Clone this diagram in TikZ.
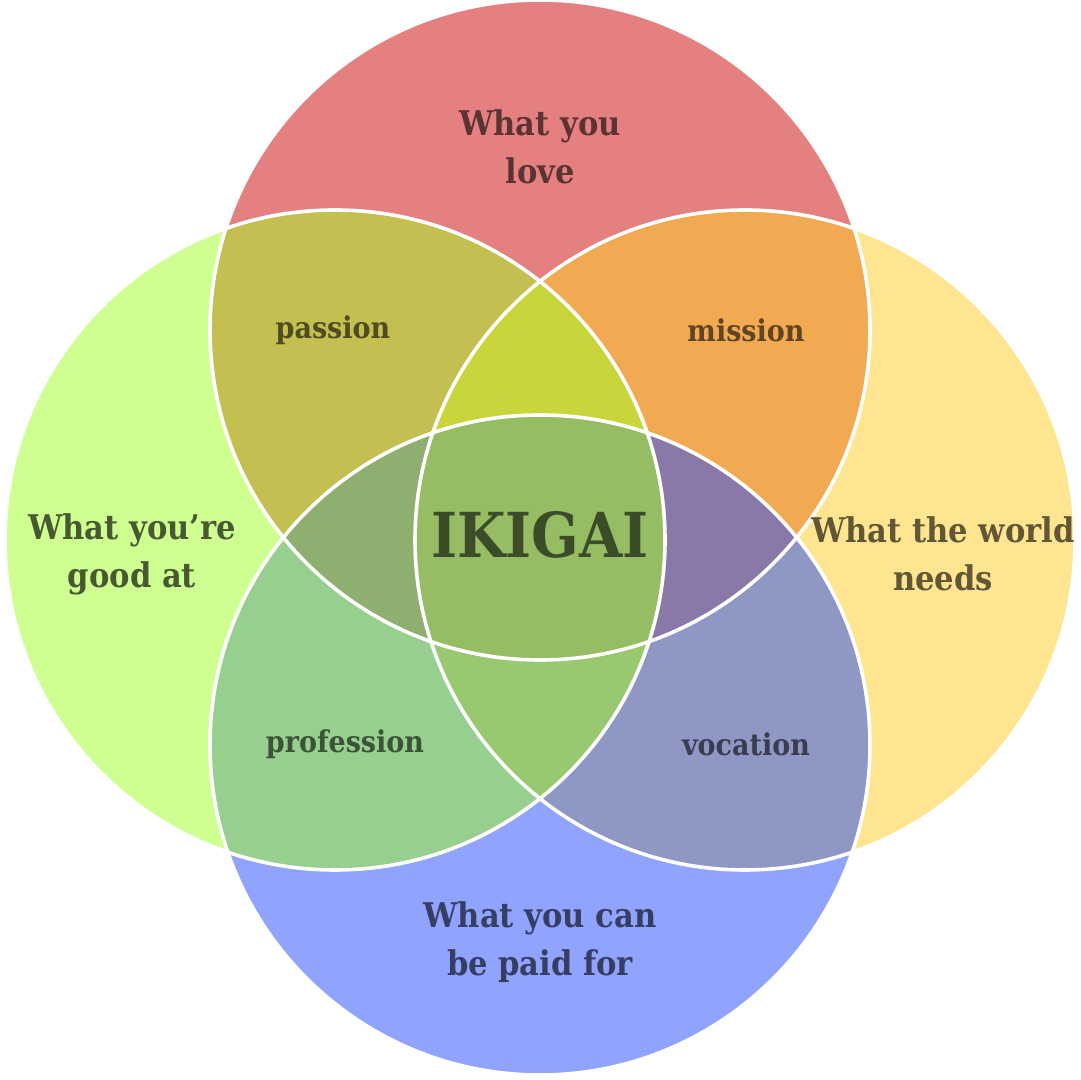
\documentclass[tikz,border=0pt]{standalone}
\usepackage{fontspec}
\setmainfont{DejaVu Serif Condensed}
\usepackage{tikz}

\definecolor{loveC}{HTML}{E58080}
\definecolor{goodC}{HTML}{CFFF90}
\definecolor{worldC}{HTML}{FFE58F}
\definecolor{paidC}{HTML}{8FA3FF}
\definecolor{passionC}{HTML}{C3BF50}
\definecolor{missionC}{HTML}{F2AA52}
\definecolor{professionC}{HTML}{96CF8E}
\definecolor{vocationC}{HTML}{8F98C5}
\definecolor{upC}{HTML}{C8D63B}
\definecolor{leftC}{HTML}{8EAF6F}
\definecolor{rightC}{HTML}{8A79A8}
\definecolor{downC}{HTML}{98C971}
\definecolor{ikigaiC}{HTML}{96BD63}

\tikzset{ring/.style={draw=white,line width=1.8pt},
  big label/.style={font=\bfseries\fontsize{17}{24}\selectfont,align=center,inner sep=0pt},
  small label/.style={font=\bfseries\fontsize{15}{16}\selectfont,inner sep=0pt},}

\def\circT{(540,750) circle[radius=165pt]}
\def\circL{(335,540) circle[radius=165pt]}
\def\circR{(745,540) circle[radius=165pt]}
\def\circB{(540,335) circle[radius=165pt]}

\begin{document}
\begin{tikzpicture}[x=0.5pt,y=0.5pt]
    \useasboundingbox (0,0) rectangle (1080,1080);

    % the four big circles
    \fill[loveC] \circT;
    \fill[goodC] \circL;
    \fill[worldC] \circR;
    \fill[paidC] \circB;

    % two at a time
    \begin{scope} \clip \circT; \fill[passionC] \circL; \end{scope}
    \begin{scope} \clip \circT; \fill[missionC] \circR; \end{scope}
    \begin{scope} \clip \circB; \fill[professionC] \circL; \end{scope}
    \begin{scope} \clip \circB; \fill[vocationC] \circR; \end{scope}

    % three at a time
    \begin{scope} \clip \circT; \clip \circL; \fill[upC] \circR; \end{scope}
    \begin{scope} \clip \circT; \clip \circL; \fill[leftC] \circB; \end{scope}
    \begin{scope} \clip \circT; \clip \circR; \fill[rightC] \circB; \end{scope}
    \begin{scope} \clip \circB; \clip \circL; \fill[downC] \circR; \end{scope}

    % all four
    \begin{scope} \clip \circT; \clip \circL; \clip \circR; \fill[ikigaiC] \circB; \end{scope}

    \draw[ring] \circT;
    \draw[ring] \circL;
    \draw[ring] \circR;
    \draw[ring] \circB;

    \node[big label,text=loveC!40!black] (love) at (540,933) {What you\\love};
    \node[big label,text=goodC!35!black] (good) at (132,526) {What you’re\\good at};
    \node[big label,text=worldC!38!black] (world) at (943,526) {What the world\\needs};
    \node[big label,text=paidC!38!black] (paid) at (540,138) {What you can\\be paid for};

    \node[small label,text=passionC!40!black] (passion) at (333,750) {passion};
    \node[small label,text=missionC!40!black] (mission) at (746,750) {mission};
    \node[small label,text=professionC!40!black] (profession) at (345,336) {profession};
    \node[small label,text=vocationC!40!black] (vocation) at (746,336) {vocation};

    \node[font=\bfseries\fontsize{31}{32}\selectfont,inner sep=0pt,text=ikigaiC!40!black] (ikigai) at (540,545) {IKIGAI};
\end{tikzpicture}
\end{document}
